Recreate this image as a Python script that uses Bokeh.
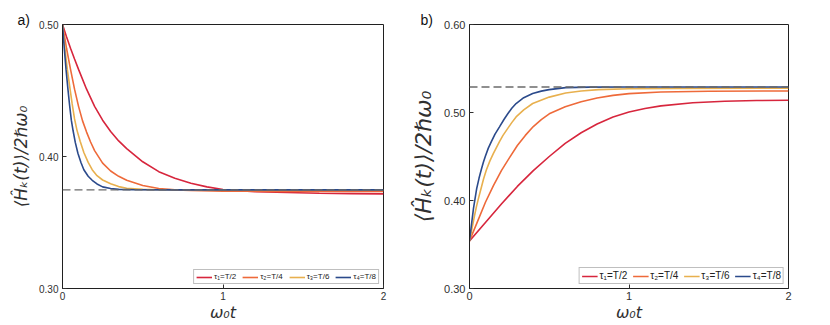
from bokeh.plotting import figure
from bokeh.layouts import row
from bokeh.models import Span, FixedTicker, NumeralTickFormatter, Range1d
from bokeh.embed import file_html
from bokeh.resources import INLINE

# ---------------- data ----------------
legend_labels = ["τ₁=T/2", "τ₂=T/4", "τ₃=T/6", "τ₄=T/8"]
colors = ["#D7263D", "#EE6A3A", "#E8B04E", "#2B4A8B"]

x_ticks = [0, 1, 2]
ya_ticks = [0.30, 0.40, 0.50]
yb_ticks = [0.30, 0.40, 0.50, 0.60]

# panel a)
a_t1 = [0, 0.025, 0.05, 0.075, 0.1, 0.15, 0.2, 0.25, 0.3, 0.35, 0.4, 0.5, 0.6, 0.7, 0.8, 0.9, 1.0, 1.1,
        1.2, 1.4, 1.6, 1.8, 2.0]
a_v1 = [0.500, 0.4908, 0.482, 0.4738, 0.466, 0.451, 0.438, 0.4275, 0.419, 0.4118, 0.406, 0.396, 0.3885,
        0.3835, 0.3797, 0.3770, 0.3750, 0.3740, 0.3734, 0.3727, 0.3722, 0.3719, 0.3717]
a_t2 = [0, 0.025, 0.05, 0.075, 0.1, 0.125, 0.15, 0.175, 0.2, 0.25, 0.3, 0.35, 0.4, 0.5, 0.6, 0.7, 0.8,
        1.0, 1.3, 1.6, 2.0]
a_v2 = [0.500, 0.482, 0.466, 0.451, 0.438, 0.427, 0.4185, 0.4110, 0.4045, 0.3950, 0.3890, 0.3850, 0.3820,
        0.3780, 0.3758, 0.3747, 0.3742, 0.3738, 0.3736, 0.3735, 0.3735]
a_t3 = [0, 0.015, 0.03, 0.045, 0.06, 0.075, 0.09, 0.11, 0.133, 0.16, 0.185, 0.215, 0.25, 0.3, 0.35, 0.4,
        0.5, 0.6, 0.8, 1.2, 2.0]
a_v3 = [0.500, 0.482, 0.466, 0.453, 0.440, 0.4285, 0.420, 0.4115, 0.4030, 0.3955, 0.3900, 0.3855, 0.3822,
        0.3793, 0.3772, 0.3760, 0.3751, 0.3748, 0.3746, 0.3745, 0.3745]
a_t4 = [0, 0.011, 0.022, 0.033, 0.044, 0.055, 0.066, 0.08, 0.096, 0.115, 0.133, 0.16, 0.185, 0.215, 0.25,
        0.3, 0.35, 0.45, 0.7, 2.0]
a_v4 = [0.500, 0.482, 0.466, 0.452, 0.439, 0.4275, 0.4195, 0.4105, 0.4025, 0.3955, 0.3900, 0.3850, 0.3820,
        0.3792, 0.3770, 0.3757, 0.3751, 0.3748, 0.3747, 0.3747]
a_limit = 0.3747

# panel b)
b_t1 = [0, 0.1, 0.2, 0.3, 0.4, 0.5, 0.6, 0.7, 0.8, 0.9, 1.0, 1.1, 1.2, 1.4, 1.6, 1.8, 2.0]
b_v1 = [0.354, 0.375, 0.396, 0.416, 0.434, 0.450, 0.465, 0.477, 0.487, 0.4950, 0.5005, 0.5045, 0.5075,
        0.5110, 0.5127, 0.5136, 0.5140]
b_t2 = [0, 0.05, 0.1, 0.15, 0.2, 0.25, 0.3, 0.35, 0.4, 0.45, 0.5, 0.6, 0.7, 0.8, 0.9, 1.0, 1.2, 1.5, 2.0]
b_v2 = [0.354, 0.376, 0.398, 0.417, 0.434, 0.4485, 0.4625, 0.474, 0.4840, 0.4920, 0.4985, 0.5065, 0.5123,
        0.5165, 0.5195, 0.5215, 0.5233, 0.5242, 0.5245]
b_t3 = [0, 0.02, 0.03, 0.0435, 0.057, 0.07, 0.088, 0.1056, 0.128, 0.15, 0.188, 0.21, 0.24, 0.265, 0.292,
        0.34, 0.396, 0.5, 0.603, 0.7, 0.81, 1.0, 1.3, 2.0]
b_v3 = [0.354, 0.372, 0.3815, 0.393, 0.403, 0.412, 0.4245, 0.4347, 0.445, 0.4535, 0.4668, 0.474, 0.482,
        0.4885, 0.495, 0.503, 0.5102, 0.5175, 0.5222, 0.5245, 0.5260, 0.5270, 0.5274, 0.5275]
b_t4 = [0, 0.012, 0.025, 0.045, 0.06, 0.0745, 0.087, 0.1, 0.118, 0.137, 0.16, 0.188, 0.215, 0.24, 0.265,
        0.292, 0.34, 0.396, 0.45, 0.499, 0.603, 0.75, 1.0, 2.0]
b_v4 = [0.354, 0.372, 0.391, 0.4135, 0.4255, 0.4355, 0.4435, 0.4505, 0.4595, 0.4668, 0.4755, 0.4837,
        0.4918, 0.4985, 0.5048, 0.5102, 0.5168, 0.5215, 0.5243, 0.5260, 0.5283, 0.5288, 0.5290, 0.5290]
b_limit = 0.529

FONT = "Liberation Sans"
ylabel = "⟨Ĥₖ(t)⟩/2ℏω₀"
xlabel = "ω₀t"


def make_panel(series, yr, yticks, limit, tag, width, left, right, tick_fs, ylab_fs, leg_fs, leg_glyph,
               leg_spacing, tag_offset):
    p = figure(width=width, height=324, x_range=Range1d(0, 2), y_range=Range1d(*yr),
               output_backend="svg", toolbar_location=None,
               min_border_left=left, min_border_right=right, min_border_top=24, min_border_bottom=35)
    p.grid.visible = False
    p.outline_line_color = "#202020"
    p.outline_line_width = 1
    p.background_fill_color = "white"
    p.border_fill_color = "white"

    for (t, v), c, lab in zip(series, colors, legend_labels):
        p.line(t, v, line_color=c, line_width=1.6, legend_label=lab)

    p.add_layout(Span(location=limit, dimension="width", line_color="#6b6b6b",
                      line_dash="8 4", line_width=1.3))

    for ax in (p.xaxis[0], p.yaxis[0]):
        ax.major_tick_in = 4
        ax.major_tick_out = 0
        ax.minor_tick_in = 0
        ax.minor_tick_out = 0
        ax.major_label_text_font = FONT
        ax.major_label_text_font_size = f"{tick_fs}px"
        ax.major_label_text_color = "#303030"
        ax.axis_label_text_font = "DejaVu Sans"
        ax.axis_label_text_font_style = "italic"
        ax.axis_label_text_color = "#303030"
        ax.major_tick_line_color = "#303030"
        ax.axis_line_color = "#202020"
    p.xaxis.ticker = FixedTicker(ticks=x_ticks)
    p.yaxis.ticker = FixedTicker(ticks=yticks)
    p.yaxis.formatter = NumeralTickFormatter(format="0.00")
    p.xaxis.axis_label = xlabel
    p.yaxis.axis_label = ylabel
    p.xaxis.axis_label_text_font_size = "16px"
    p.yaxis.axis_label_text_font_size = f"{ylab_fs}px"
    p.xaxis.major_label_standoff = 3
    p.yaxis.major_label_standoff = 4
    p.xaxis.axis_label_standoff = 0
    p.yaxis.axis_label_standoff = 5

    lg = p.legend[0]
    lg.orientation = "horizontal"
    lg.location = "bottom_right"
    lg.margin = 4
    lg.padding = 2
    lg.spacing = leg_spacing
    lg.label_standoff = 2
    lg.glyph_width = leg_glyph
    lg.glyph_height = leg_fs
    lg.label_height = leg_fs
    lg.label_text_font = FONT
    lg.label_text_font_size = f"{leg_fs}px"
    lg.label_text_color = "#222222"
    lg.border_line_color = "#808080"
    lg.border_line_width = 1
    lg.background_fill_alpha = 1

    p.title.text = tag
    p.title.align = "left"
    p.title.offset = tag_offset
    p.title.standoff = -6
    p.title.text_font = FONT
    p.title.text_font_size = "14px"
    p.title.text_font_style = "normal"
    p.title.text_color = "#111111"
    p.title.vertical_align = "bottom"
    return p


pa = make_panel([(a_t1, a_v1), (a_t2, a_v2), (a_t3, a_v3), (a_t4, a_v4)], (0.30, 0.50), ya_ticks,
                a_limit, "a)", 408, 62, 25, 10, 17, 8, 16, 6, -45)
pb = make_panel([(b_t1, b_v1), (b_t2, b_v2), (b_t3, b_v3), (b_t4, b_v4)], (0.30, 0.60), yb_ticks,
                b_limit, "b)", 400, 58, 20, 11, 22, 10, 16, 5, -49)

layout = row(pa, pb, spacing=0)
open("out.html", "w").write(file_html(layout, INLINE))
